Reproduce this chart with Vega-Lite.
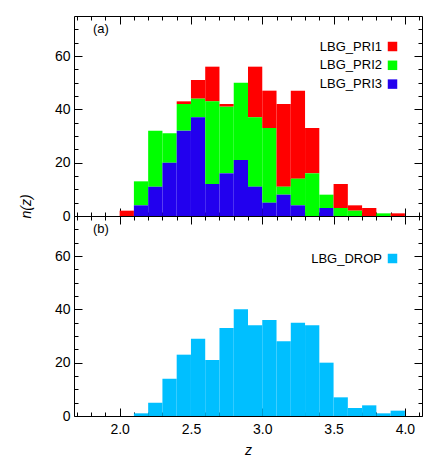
{
  "$schema": "https://vega.github.io/schema/vega-lite/v6.json",
  "padding": {"left": 18, "top": 15, "right": 15, "bottom": 5},
  "datasets": {
    "pri": [
      {"z0": 2.0, "z1": 2.1, "sample": "LBG_PRI1", "n": 2},
      {"z0": 2.1, "z1": 2.2, "sample": "LBG_PRI2", "n": 9},
      {"z0": 2.1, "z1": 2.2, "sample": "LBG_PRI3", "n": 4},
      {"z0": 2.2, "z1": 2.3, "sample": "LBG_PRI2", "n": 21},
      {"z0": 2.2, "z1": 2.3, "sample": "LBG_PRI3", "n": 11},
      {"z0": 2.3, "z1": 2.4, "sample": "LBG_PRI2", "n": 11},
      {"z0": 2.3, "z1": 2.4, "sample": "LBG_PRI3", "n": 20},
      {"z0": 2.4, "z1": 2.5, "sample": "LBG_PRI1", "n": 1},
      {"z0": 2.4, "z1": 2.5, "sample": "LBG_PRI2", "n": 10},
      {"z0": 2.4, "z1": 2.5, "sample": "LBG_PRI3", "n": 32},
      {"z0": 2.5, "z1": 2.6, "sample": "LBG_PRI1", "n": 7},
      {"z0": 2.5, "z1": 2.6, "sample": "LBG_PRI2", "n": 7},
      {"z0": 2.5, "z1": 2.6, "sample": "LBG_PRI3", "n": 37},
      {"z0": 2.6, "z1": 2.7, "sample": "LBG_PRI1", "n": 13},
      {"z0": 2.6, "z1": 2.7, "sample": "LBG_PRI2", "n": 31},
      {"z0": 2.6, "z1": 2.7, "sample": "LBG_PRI3", "n": 12},
      {"z0": 2.7, "z1": 2.8, "sample": "LBG_PRI1", "n": 1},
      {"z0": 2.7, "z1": 2.8, "sample": "LBG_PRI2", "n": 25},
      {"z0": 2.7, "z1": 2.8, "sample": "LBG_PRI3", "n": 16},
      {"z0": 2.8, "z1": 2.9, "sample": "LBG_PRI2", "n": 29},
      {"z0": 2.8, "z1": 2.9, "sample": "LBG_PRI3", "n": 21},
      {"z0": 2.9, "z1": 3.0, "sample": "LBG_PRI1", "n": 19},
      {"z0": 2.9, "z1": 3.0, "sample": "LBG_PRI2", "n": 26},
      {"z0": 2.9, "z1": 3.0, "sample": "LBG_PRI3", "n": 11},
      {"z0": 3.0, "z1": 3.1, "sample": "LBG_PRI1", "n": 14},
      {"z0": 3.0, "z1": 3.1, "sample": "LBG_PRI2", "n": 28},
      {"z0": 3.0, "z1": 3.1, "sample": "LBG_PRI3", "n": 5},
      {"z0": 3.1, "z1": 3.2, "sample": "LBG_PRI1", "n": 31},
      {"z0": 3.1, "z1": 3.2, "sample": "LBG_PRI2", "n": 3},
      {"z0": 3.1, "z1": 3.2, "sample": "LBG_PRI3", "n": 8},
      {"z0": 3.2, "z1": 3.3, "sample": "LBG_PRI1", "n": 33},
      {"z0": 3.2, "z1": 3.3, "sample": "LBG_PRI2", "n": 10},
      {"z0": 3.2, "z1": 3.3, "sample": "LBG_PRI3", "n": 4},
      {"z0": 3.3, "z1": 3.4, "sample": "LBG_PRI1", "n": 17},
      {"z0": 3.3, "z1": 3.4, "sample": "LBG_PRI2", "n": 16},
      {"z0": 3.4, "z1": 3.5, "sample": "LBG_PRI2", "n": 5},
      {"z0": 3.4, "z1": 3.5, "sample": "LBG_PRI3", "n": 3},
      {"z0": 3.5, "z1": 3.6, "sample": "LBG_PRI1", "n": 9},
      {"z0": 3.5, "z1": 3.6, "sample": "LBG_PRI2", "n": 3},
      {"z0": 3.6, "z1": 3.7, "sample": "LBG_PRI1", "n": 2},
      {"z0": 3.6, "z1": 3.7, "sample": "LBG_PRI2", "n": 2},
      {"z0": 3.7, "z1": 3.8, "sample": "LBG_PRI1", "n": 3},
      {"z0": 3.8, "z1": 3.9, "sample": "LBG_PRI2", "n": 1},
      {"z0": 3.9, "z1": 4.0, "sample": "LBG_PRI1", "n": 1}
    ],
    "drop": [
      {"z0": 2.1, "z1": 2.2, "sample": "LBG_DROP", "n": 1},
      {"z0": 2.2, "z1": 2.3, "sample": "LBG_DROP", "n": 5},
      {"z0": 2.3, "z1": 2.4, "sample": "LBG_DROP", "n": 14},
      {"z0": 2.4, "z1": 2.5, "sample": "LBG_DROP", "n": 23},
      {"z0": 2.5, "z1": 2.6, "sample": "LBG_DROP", "n": 29},
      {"z0": 2.6, "z1": 2.7, "sample": "LBG_DROP", "n": 21},
      {"z0": 2.7, "z1": 2.8, "sample": "LBG_DROP", "n": 33},
      {"z0": 2.8, "z1": 2.9, "sample": "LBG_DROP", "n": 40},
      {"z0": 2.9, "z1": 3.0, "sample": "LBG_DROP", "n": 34},
      {"z0": 3.0, "z1": 3.1, "sample": "LBG_DROP", "n": 36},
      {"z0": 3.1, "z1": 3.2, "sample": "LBG_DROP", "n": 28},
      {"z0": 3.2, "z1": 3.3, "sample": "LBG_DROP", "n": 35},
      {"z0": 3.3, "z1": 3.4, "sample": "LBG_DROP", "n": 34},
      {"z0": 3.4, "z1": 3.5, "sample": "LBG_DROP", "n": 20},
      {"z0": 3.5, "z1": 3.6, "sample": "LBG_DROP", "n": 7},
      {"z0": 3.6, "z1": 3.7, "sample": "LBG_DROP", "n": 3},
      {"z0": 3.7, "z1": 3.8, "sample": "LBG_DROP", "n": 4},
      {"z0": 3.8, "z1": 3.9, "sample": "LBG_DROP", "n": 1},
      {"z0": 3.9, "z1": 4.0, "sample": "LBG_DROP", "n": 2}
    ]
  },
  "vconcat": [
    {
      "width": 348,
      "height": 200,
      "title": {"text": "(a)", "anchor": "start", "frame": "group", "orient": "top", "offset": -26, "dx": 19, "baseline": "middle"},
      "data": {"name": "pri"},
      "layer": [
        {
          "transform": [{"stack": "n", "groupby": ["z0"], "sort": [{"field": "sample", "order": "descending"}], "as": ["ya", "yb"]}],
          "mark": {"type": "bar"},
          "encoding": {
            "x": {"field": "z0", "type": "quantitative",
              "scale": {"domain": [1.68, 4.12], "nice": false, "zero": false},
              "axis": {"orient": "bottom", "labels": false, "title": null,
                "values": [1.7,1.8,1.9,2.0,2.1,2.2,2.3,2.4,2.5,2.6,2.7,2.8,2.9,3.0,3.1,3.2,3.3,3.4,3.5,3.6,3.7,3.8,3.9,4.0,4.1],
                "tickSize": {"condition": {"test": "abs(datum.value*2 - round(datum.value*2)) < 0.001", "value": -8}, "value": -4}}},
            "x2": {"field": "z1"},
            "y": {"field": "yb", "type": "quantitative",
              "scale": {"domain": [0, 75], "nice": false},
              "axis": {"orient": "left", "values": [0,5,10,15,20,25,30,35,40,45,50,55,60,65,70],
                "labelExpr": "datum.value % 20 === 0 ? datum.label : ''",
                "labelPadding": 12,
                "tickSize": {"condition": {"test": "datum.value % 20 === 0", "value": -8}, "value": -4},
                "title": "n(z)", "titleFontStyle": "italic", "titleFontWeight": "normal", "titleFontSize": 14,
                "titleAngle": -90, "titleX": -48, "titleY": 190, "titleAlign": "center", "titleBaseline": "middle"}},
            "y2": {"field": "ya"},
            "color": {"field": "sample", "type": "nominal",
              "scale": {"domain": ["LBG_PRI1", "LBG_PRI2", "LBG_PRI3"], "range": ["#ff0000", "#00ff00", "#2200ee"]},
              "legend": {"orient": "none", "legendX": 312, "legendY": 24, "padding": 0, "title": null,
                "symbolType": "square", "symbolSize": 90, "symbolStrokeWidth": 0,
                "labelAlign": "right", "labelOffset": -17, "rowPadding": 4.8}}
          }
        },
        {
          "mark": {"type": "bar", "opacity": 0},
          "encoding": {
            "x": {"field": "z0", "type": "quantitative",
              "axis": {"orient": "top", "labels": false, "title": null,
                "values": [1.7,1.8,1.9,2.0,2.1,2.2,2.3,2.4,2.5,2.6,2.7,2.8,2.9,3.0,3.1,3.2,3.3,3.4,3.5,3.6,3.7,3.8,3.9,4.0,4.1],
                "tickSize": {"condition": {"test": "abs(datum.value*2 - round(datum.value*2)) < 0.001", "value": -8}, "value": -4}}},
            "x2": {"field": "z1"},
            "y": {"field": "n", "type": "quantitative",
              "axis": {"orient": "right", "labels": false, "title": null,
                "values": [0,5,10,15,20,25,30,35,40,45,50,55,60,65,70],
                "tickSize": {"condition": {"test": "datum.value % 20 === 0", "value": -8}, "value": -4}}},
            "y2": {"datum": 0}
          }
        }
      ],
      "resolve": {"axis": {"x": "independent", "y": "independent"}}
    },
    {
      "width": 348,
      "height": 200,
      "title": {"text": "(b)", "anchor": "start", "frame": "group", "orient": "top", "offset": -26, "dx": 19, "baseline": "middle"},
      "data": {"name": "drop"},
      "layer": [
        {
          "mark": {"type": "bar"},
          "encoding": {
            "x": {"field": "z0", "type": "quantitative",
              "scale": {"domain": [1.68, 4.12], "nice": false, "zero": false},
              "axis": {"orient": "bottom", "format": ".1f",
                "values": [1.7,1.8,1.9,2.0,2.1,2.2,2.3,2.4,2.5,2.6,2.7,2.8,2.9,3.0,3.1,3.2,3.3,3.4,3.5,3.6,3.7,3.8,3.9,4.0,4.1],
                "labelExpr": "abs(datum.value*2 - round(datum.value*2)) < 0.001 ? datum.label : ''",
                "labelPadding": 14,
                "tickSize": {"condition": {"test": "abs(datum.value*2 - round(datum.value*2)) < 0.001", "value": -8}, "value": -4},
                "title": "z", "titleFontStyle": "italic", "titleFontWeight": "normal", "titleFontSize": 14, "titlePadding": 3}},
            "x2": {"field": "z1"},
            "y": {"field": "n", "type": "quantitative",
              "scale": {"domain": [0, 75], "nice": false},
              "axis": {"orient": "left", "values": [0,5,10,15,20,25,30,35,40,45,50,55,60,65,70],
                "labelExpr": "datum.value % 20 === 0 ? datum.label : ''",
                "labelPadding": 12,
                "tickSize": {"condition": {"test": "datum.value % 20 === 0", "value": -8}, "value": -4},
                "title": null}},
            "y2": {"datum": 0},
            "color": {"field": "sample", "type": "nominal",
              "scale": {"domain": ["LBG_DROP"], "range": ["#00bfff"]},
              "legend": {"orient": "none", "legendX": 312, "legendY": 36, "padding": 0, "title": null,
                "symbolType": "square", "symbolSize": 90, "symbolStrokeWidth": 0,
                "labelAlign": "right", "labelOffset": -17}}
          }
        },
        {
          "mark": {"type": "bar", "opacity": 0},
          "encoding": {
            "x": {"field": "z0", "type": "quantitative",
              "axis": {"orient": "top", "labels": false, "title": null,
                "values": [1.7,1.8,1.9,2.0,2.1,2.2,2.3,2.4,2.5,2.6,2.7,2.8,2.9,3.0,3.1,3.2,3.3,3.4,3.5,3.6,3.7,3.8,3.9,4.0,4.1],
                "tickSize": {"condition": {"test": "abs(datum.value*2 - round(datum.value*2)) < 0.001", "value": -8}, "value": -4}}},
            "x2": {"field": "z1"},
            "y": {"field": "n", "type": "quantitative",
              "axis": {"orient": "right", "labels": false, "title": null,
                "values": [0,5,10,15,20,25,30,35,40,45,50,55,60,65,70],
                "tickSize": {"condition": {"test": "datum.value % 20 === 0", "value": -8}, "value": -4}}},
            "y2": {"datum": 0}
          }
        }
      ],
      "resolve": {"axis": {"x": "independent", "y": "independent"}}
    }
  ],
  "spacing": 0,
  "bounds": "flush",
  "resolve": {"scale": {"color": "independent"}, "legend": {"color": "independent"}},
  "config": {
    "font": "Liberation Sans",
    "view": {"stroke": "black", "strokeWidth": 1},
    "axis": {"domain": false, "grid": false, "tickColor": "black", "tickWidth": 1,
      "labelFont": "Liberation Sans", "labelFontSize": 14, "labelColor": "black",
      "labelOverlap": false, "labelFlush": false, "labelBound": false,
      "titleFont": "Liberation Sans", "titleColor": "black"},
    "legend": {"labelFont": "Liberation Sans", "labelFontSize": 13, "labelColor": "black"},
    "title": {"font": "Liberation Sans", "fontSize": 13, "fontWeight": "normal", "color": "black"}
  }
}
